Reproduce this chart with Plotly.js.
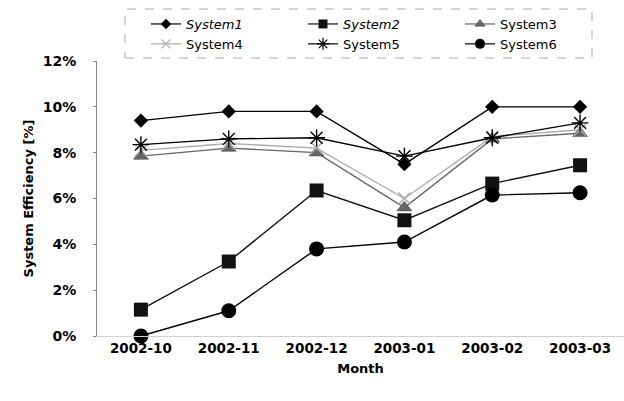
<!DOCTYPE html>
<html>
<head>
<meta charset="utf-8">
<script src="https://cdn.plot.ly/plotly-3.0.1.min.js"></script>
<style>
  html, body { margin: 0; padding: 0; background: #fff; }
  #chart { width: 624px; height: 401px; }
</style>
</head>
<body>
<div id="chart"></div>
<script>
// Monthly system efficiency (%) for six systems
const months = ['2002-10', '2002-11', '2002-12', '2003-01', '2003-02', '2003-03'];
const system1 = [9.4, 9.8, 9.8, 7.5, 10.0, 10.0];
const system2 = [1.15, 3.25, 6.35, 5.05, 6.65, 7.45];
const system3 = [7.85, 8.2, 8.0, 5.6, 8.6, 8.85];
const system4 = [8.1, 8.4, 8.2, 6.0, 8.7, 9.0];
const system5 = [8.35, 8.6, 8.65, 7.85, 8.65, 9.3];
const system6 = [0.0, 1.1, 3.8, 4.1, 6.15, 6.25];
const seriesNames = ['<i>System1</i>', '<i>System2</i>', 'System3', 'System4', 'System5', 'System6'];
const yTickVals = [0, 2, 4, 6, 8, 10, 12];
const yTickText = ['0%', '2%', '4%', '6%', '8%', '10%', '12%'];

// per-series style: colour, symbol, plot marker size, legend marker size, outline
const styles = [
  { color: '#000', symbol: 'diamond',       size: 11, legSize: 8,  lc: '#000', lw: 0 },
  { color: '#111', symbol: 'square',        size: 14, legSize: 9,  lc: '#111', lw: 0 },
  { color: '#666', symbol: 'triangle-up',   size: 13, legSize: 9,  lc: '#444', lw: 0.5 },
  { color: '#aaa', symbol: 'x-thin-open',   size: 12, legSize: 9,  lc: '#999', lw: 1.4 },
  { color: '#000', symbol: 'asterisk-open', size: 14, legSize: 10, lc: '#000', lw: 1.4 },
  { color: '#000', symbol: 'circle',        size: 15, legSize: 10, lc: '#000', lw: 0 }
];
const values = [system1, system2, system3, system4, system5, system6];

const traces = [];
values.forEach((vals, i) => {
  const s = styles[i];
  traces.push({
    type: 'scatter', mode: 'lines+markers', name: seriesNames[i],
    x: months, y: vals, showlegend: false,
    line: { color: s.color, width: 1.4 },
    marker: { symbol: s.symbol, size: s.size, color: s.color, line: { color: s.lc, width: s.lw } },
    cliponaxis: false
  });
});
// legend entries with smaller key symbols
values.forEach((vals, i) => {
  const s = styles[i];
  traces.push({
    type: 'scatter', mode: 'lines+markers', name: seriesNames[i],
    x: [months[0]], y: [null], showlegend: true, hoverinfo: 'skip',
    line: { color: s.color, width: 1.2 },
    marker: { symbol: s.symbol, size: s.legSize, color: s.color, line: { color: s.lc, width: Math.min(s.lw, 1.2) } }
  });
});

// plot area in pixels: left 97, right 624, top 61, bottom 336
const pxX = px => (px - 97) / 527;
const pxY = py => (336 - py) / 275;

const layout = {
  width: 624, height: 401,
  margin: { l: 97, r: 0, t: 61, b: 65 },
  paper_bgcolor: '#fff', plot_bgcolor: '#fff',
  font: { family: '"DejaVu Sans", Arial, sans-serif', color: '#000' },
  showlegend: true,
  legend: {
    orientation: 'h',
    x: pxX(146), xanchor: 'left',
    y: pxY(9), yanchor: 'top',
    entrywidth: 112,
    font: { size: 13, family: '"DejaVu Sans", Arial, sans-serif' },
    bgcolor: 'rgba(0,0,0,0)',
    borderwidth: 0,
    tracegroupgap: 0
  },
  xaxis: {
    type: 'category',
    range: [-0.5, 5.5],
    showline: true, linecolor: '#d0d0d0', linewidth: 1,
    ticks: '', showgrid: false, zeroline: false,
    tickfont: { size: 13.5, family: '"DejaVu Sans", Arial, sans-serif', weight: 'bold' },
    title: { text: '<b>Month</b>', font: { size: 13 }, standoff: 8 }
  },
  yaxis: {
    range: [0, 12],
    tickmode: 'array',
    tickvals: yTickVals,
    ticktext: yTickText,
    showline: true, linecolor: '#888', linewidth: 1,
    ticks: 'outside', ticklen: 3, tickcolor: '#888',
    ticklabelstandoff: 14,
    showgrid: false, zeroline: false,
    tickfont: { size: 14, family: '"DejaVu Sans", Arial, sans-serif', weight: 'bold' },
    title: { text: '<b>System Efficiency [%]</b>', font: { size: 13 }, standoff: 6 }
  },
  shapes: [{
    type: 'rect', xref: 'paper', yref: 'paper',
    x0: pxX(125), x1: pxX(592), y0: pxY(58), y1: pxY(9),
    line: { color: '#aaa', width: 1, dash: 'dash' },
    fillcolor: 'rgba(0,0,0,0)'
  }]
};

Plotly.newPlot('chart', traces, layout, { displayModeBar: false, staticPlot: true });
</script>
</body>
</html>
